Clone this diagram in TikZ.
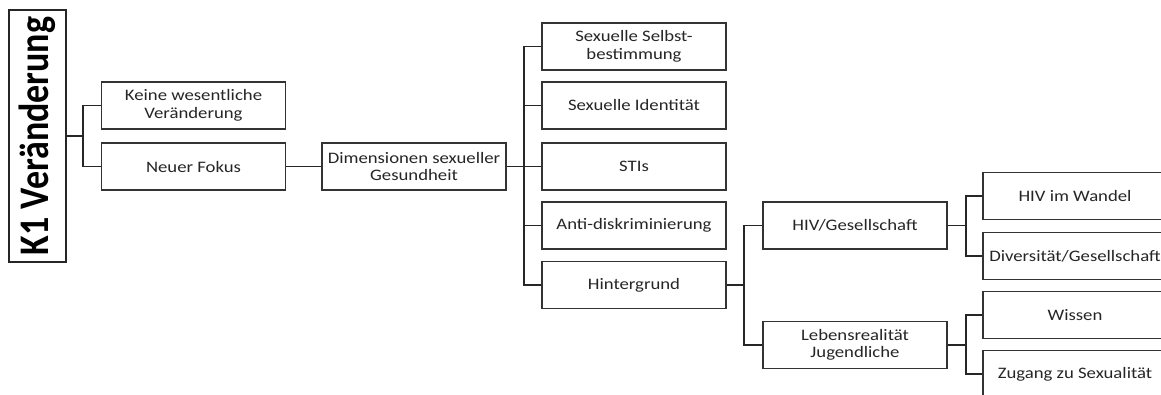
\documentclass[tikz,border=0pt]{standalone}
\usepackage{fontspec}
\setmainfont{Carlito}[FakeStretch=1.17]
\newfontfamily\rootfont{Carlito}
\begin{document}
\begin{tikzpicture}[x=1pt,y=-1pt,
  box/.style={draw=black!80, line width=1.1pt, minimum width=184pt, minimum height=47pt,
    inner sep=0pt, align=center, text=black!85, font=\fontsize{16}{17.5}\selectfont},
  link/.style={draw=black!85, line width=1.1pt}]
\useasboundingbox (0,0) rectangle (1161,394);
\clip (0,0) rectangle (1161,394);
\fill[white] (0,0) rectangle (1161,394);
% root
\node[draw=black!85, line width=1.2pt, minimum width=57pt, minimum height=252pt, inner sep=0pt] (k1) at (37.5,136)
  {\rotatebox{90}{\scalebox{1}[1.17]{\rootfont\fontsize{36}{40}\selectfont\bfseries K1 Veränderung}}};
% level 1
\node[box] (keine) at (193.5,105.5) {Keine wesentliche\\Veränderung};
\node[box] (neuer) at (193.5,166.5) {Neuer Fokus};
% level 2
\node[box] (dim) at (414,166.5) {Dimensionen sexueller\\Gesundheit};
% level 3
\node[box] (selbst) at (634,46.5) {Sexuelle Selbst-\\bestimmung};
\node[box] (ident) at (634,105.5) {Sexuelle Identität};
\node[box] (stis) at (634,166.5) {STIs};
\node[box] (anti) at (634,225.5) {Anti-diskriminierung};
\node[box] (hint) at (634,285) {Hintergrund};
% level 4
\node[box] (hivg) at (855,225.5) {HIV/Gesellschaft};
\node[box] (leben) at (855,345) {Lebensrealität\\Jugendliche};
% level 5
\node[box] (wandel) at (1075,196) {HIV im Wandel};
\node[box] (divers) at (1075,256) {Diversität/Gesellschaft};
\node[box] (wissen) at (1075,315) {Wissen};
\node[box] (zugang) at (1075,374) {Zugang zu Sexualität};
% junction points
\coordinate (j1) at (83,136);
\coordinate (j2) at (524,166.5);
\coordinate (j3) at (744,285);
\coordinate (j4) at (966,225.5);
\coordinate (j5) at (966,345);
% connectors
\draw[link] (k1.east) -- (j1);
\draw[link] (keine.west) -| (j1) |- (neuer.west);
\draw[link] (neuer.east) -- (dim.west);
\draw[link] (dim.east) -- (j2);
\draw[link] (selbst.west) -| (j2) |- (hint.west);
\draw[link] (j2 |- ident.west) -- (ident.west);
\draw[link] (j2) -- (stis.west);
\draw[link] (j2 |- anti.west) -- (anti.west);
\draw[link] (hint.east) -- (j3);
\draw[link] (hivg.west) -| (j3) |- (leben.west);
\draw[link] (hivg.east) -- (j4);
\draw[link] (wandel.west) -| (j4) |- (divers.west);
\draw[link] (leben.east) -- (j5);
\draw[link] (wissen.west) -| (j5) |- (zugang.west);
\end{tikzpicture}
\end{document}
